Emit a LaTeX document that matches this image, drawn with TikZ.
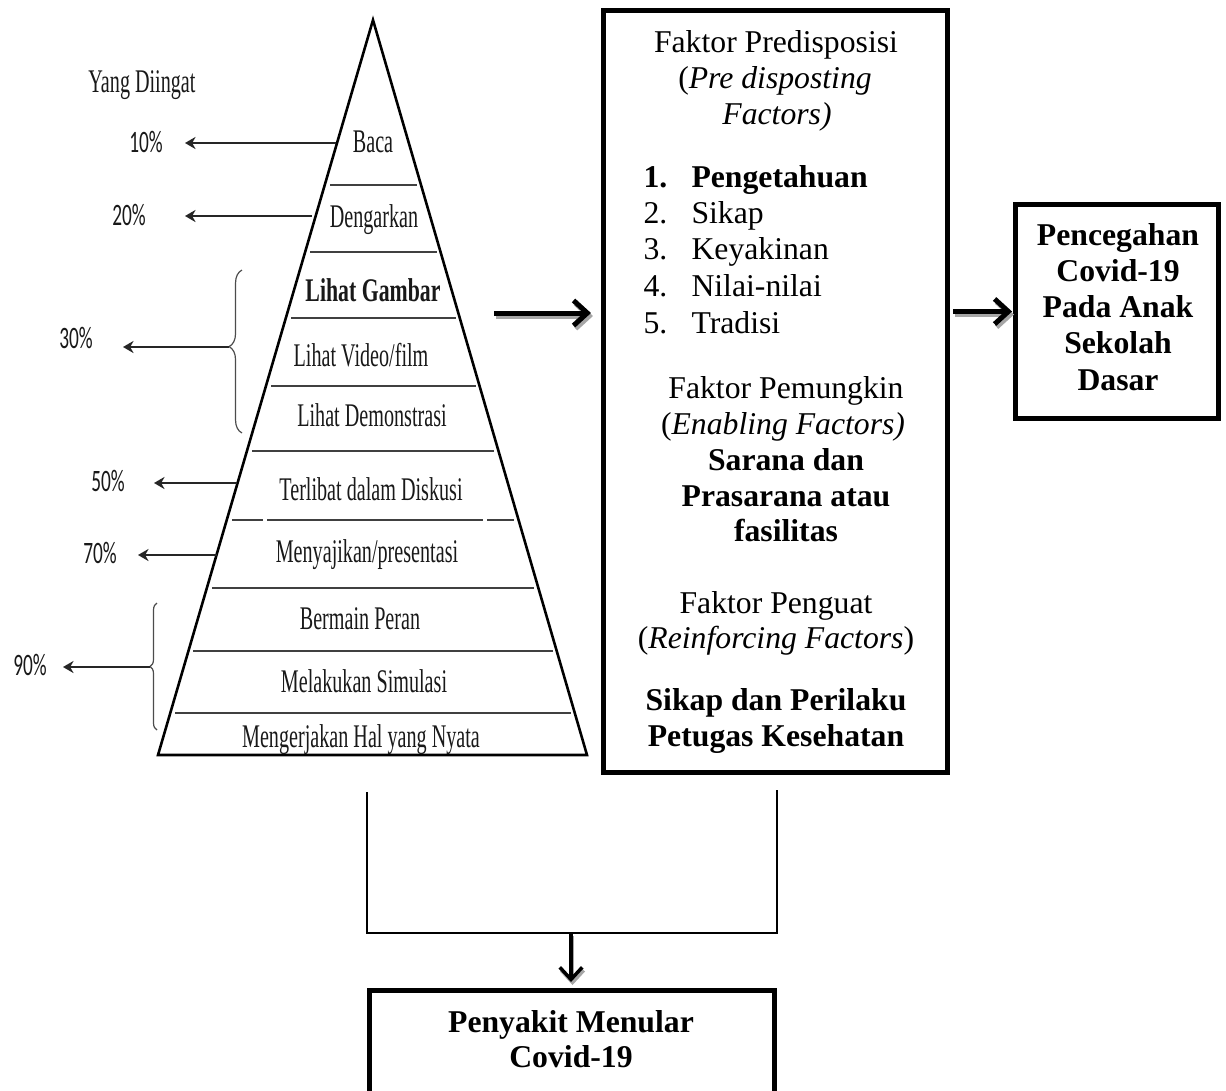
\documentclass[tikz,border=0pt]{standalone}
\usepackage{fontspec}
\setmainfont{Liberation Serif}
\newfontfamily\pctfont{Carlito}
\usepackage{graphicx}
\usetikzlibrary{arrows.meta,decorations.pathreplacing}

% condensed labels of the learning pyramid
\newcommand\pyrlabel[1]{\scalebox{0.61}[1]{\fontsize{12.5}{14}\selectfont #1}}
\newcommand\pyrbold[1]{\scalebox{0.66}[1]{\fontsize{12.5}{14}\selectfont\bfseries #1}}
\newcommand\pctlabel[1]{\scalebox{0.62}[1]{\pctfont\fontsize{11.8}{13}\selectfont #1}}

\tikzset{
  boxline/.style={draw, line width=1.89pt, inner sep=0pt},
  txt/.style={inner sep=0pt, anchor=base, font=\fontsize{12}{14}\selectfont},
  txtl/.style={txt, anchor=base west},
  pyr/.style={inner sep=0pt, anchor=base, text=black!90},
  layer/.style={draw=black!75, line width=0.9pt},
  pctarrow/.style={draw=black!85, line width=0.9pt, -{Stealth[length=4pt, width=4.6pt]}},
  bracket/.style={draw=black!70, line width=0.45pt, decorate},
  bigarrow/.style={line width=1.89pt, -{Straight Barb[length=5.2pt, width=9.5pt]}},
  bigshadow/.style={bigarrow, draw=black!35, transform canvas={shift={(0.76pt,-1.14pt)}}},
  downarrow/.style={line width=1.32pt, -{Straight Barb[length=4.6pt, width=8.5pt]}},
  downshadow/.style={downarrow, draw=black!35, transform canvas={shift={(0.57pt,-1.14pt)}}},
  joinline/.style={line width=0.49pt},
}

\begin{document}
\begin{tikzpicture}[x=0.3785pt, y=-0.3785pt]
\clip (0,0) rectangle (1226,1090);
\fill[white] (0,0) rectangle (1226,1090);

% ---------- learning pyramid ----------
\coordinate (apex) at (373,20);
\coordinate (bl) at (158,755);
\coordinate (br) at (587,755);
\draw[line width=0.98pt, line join=miter] (apex) -- (br) -- (bl) -- cycle;

\draw[layer] (330,185) -- (417,185);
\draw[layer] (310,252) -- (437,252);
\draw[layer] (291,318) -- (456,318);
\draw[layer] (271,386) -- (476,386);
\draw[layer] (252,451) -- (494,451);
\draw[layer] (232,520) -- (263,520);
\draw[layer] (267,520) -- (483,520);
\draw[layer] (487,520) -- (514,520);
\draw[layer] (212,588) -- (534,588);
\draw[layer] (193,651) -- (553,651);
\draw[layer] (175,713) -- (571,713);

\node[pyr] (baca) at (373,152) {\pyrlabel{Baca}};
\node[pyr] (dengar) at (374,227) {\pyrlabel{Dengarkan}};
\node[pyr] (gambar) at (373,301) {\pyrbold{Lihat Gambar}};
\node[pyr] (video) at (361,366) {\pyrlabel{Lihat Video/film}};
\node[pyr] (demo) at (372,426) {\pyrlabel{Lihat Demonstrasi}};
\node[pyr] (diskusi) at (371,500) {\pyrlabel{Terlibat dalam Diskusi}};
\node[pyr] (saji) at (367,562) {\pyrlabel{Menyajikan/presentasi}};
\node[pyr] (peran) at (360,629) {\pyrlabel{Bermain Peran}};
\node[pyr] (simulasi) at (364,692) {\pyrlabel{Melakukan Simulasi}};
\node[pyr] (nyata) at (361,747) {\pyrlabel{Mengerjakan Hal yang Nyata}};

% ---------- retention percentages ----------
\node[pyr] (diingat) at (142,92) {\pyrlabel{Yang Diingat}};

\node[pyr] (p10) at (146,152) {\pctlabel{10\%}};
\node[pyr] (p20) at (129,225) {\pctlabel{20\%}};
\node[pyr] (p30) at (76,348) {\pctlabel{30\%}};
\node[pyr] (p50) at (108,491) {\pctlabel{50\%}};
\node[pyr] (p70) at (100,563) {\pctlabel{70\%}};
\node[pyr] (p90) at (30,675) {\pctlabel{90\%}};

\coordinate (s10) at (336,143);  \coordinate (t10) at (185,143);
\coordinate (s20) at (312,216);  \coordinate (t20) at (185,216);
\coordinate (s50) at (237,483);  \coordinate (t50) at (154,483);
\coordinate (s70) at (217,555);  \coordinate (t70) at (138,555);
\coordinate (s30) at (229,347);  \coordinate (t30) at (123,347);
\coordinate (s90) at (150,667);  \coordinate (t90) at (63,667);

\draw[bracket, decoration={brace, amplitude=4.9pt, aspect=0.53}] (242,433) -- (242,270);
\draw[bracket, decoration={brace, amplitude=2.65pt, aspect=0.5}] (157,730) -- (157,603);

\draw[pctarrow] (s10) -- (t10);
\draw[pctarrow] (s20) -- (t20);
\draw[pctarrow] (s30) -- (t30);
\draw[pctarrow] (s50) -- (t50);
\draw[pctarrow] (s70) -- (t70);
\draw[pctarrow] (s90) -- (t90);

% ---------- factor box ----------
\node[boxline, minimum width=130.2pt, minimum height=288.4pt] (fac) at (775.5,391.5) {};

\node[txt] (f1) at (776,52) {Faktor Predisposisi};
\node[txt] (f2) at (775,88) {(\textit{Pre disposting}};
\node[txt] (f3) at (777,124) {\textit{Factors)}};

\node[txtl] (n1) at (643,187) {\textbf{1.}};
\node[txtl] (i1) at (691,187) {\textbf{Pengetahuan}};
\node[txtl] (n2) at (643,223) {2.};
\node[txtl] (i2) at (691,223) {Sikap};
\node[txtl] (n3) at (643,259) {3.};
\node[txtl] (i3) at (691,259) {Keyakinan};
\node[txtl] (n4) at (643,296) {4.};
\node[txtl] (i4) at (691,296) {Nilai-nilai};
\node[txtl] (n5) at (643,333) {5.};
\node[txtl] (i5) at (691,333) {Tradisi};

\node[txt] (e1) at (786,398) {Faktor Pemungkin};
\node[txt] (e2) at (783,434) {(\textit{Enabling Factors)}};
\node[txt] (e3) at (786,470) {\textbf{Sarana dan}};
\node[txt] (e4) at (786,506) {\textbf{Prasarana atau}};
\node[txt] (e5) at (786,541) {\textbf{fasilitas}};

\node[txt] (r1) at (776,613) {Faktor Penguat};
\node[txt] (r2) at (776,648) {(\textit{Reinforcing Factors})};
\node[txt] (r3) at (776,710) {\textbf{Sikap dan Perilaku}};
\node[txt] (r4) at (776,746) {\textbf{Petugas Kesehatan}};

% ---------- outcome boxes ----------
\node[boxline, minimum width=76.8pt, minimum height=81pt] (prev) at (1117,311.5) {};
\node[txt] (c1) at (1118,245) {\textbf{Pencegahan}};
\node[txt] (c2) at (1118,281) {\textbf{Covid-19}};
\node[txt] (c3) at (1118,317) {\textbf{Pada Anak}};
\node[txt] (c4) at (1118,353) {\textbf{Sekolah}};
\node[txt] (c5) at (1118,390) {\textbf{Dasar}};

\node[boxline, minimum width=153.3pt, minimum height=53pt] (dis) at (572,1060.5) {};
\node[txt] (d1) at (571,1032) {\textbf{Penyakit Menular}};
\node[txt] (d2) at (571,1067) {\textbf{Covid-19}};

% ---------- connectors ----------
\coordinate (a1) at (494,313);
\draw[bigshadow, shorten >=3.8pt] (a1) -- (a1 -| fac.west);
\draw[bigarrow, shorten >=3.8pt] (a1) -- (a1 -| fac.west);

\draw[bigshadow, shorten <=1.14pt, shorten >=0.38pt] (fac.east |- prev.west) -- (prev.west);
\draw[bigarrow, shorten <=1.14pt, shorten >=0.38pt] (fac.east |- prev.west) -- (prev.west);

\coordinate (cl) at (367,792);
\coordinate (cr) at (777,790);
\coordinate (jl) at (367,933);
\coordinate (jr) at (777,933);
\coordinate (jm) at (571,933);
\draw[joinline] (cl) -- (jl) -- (jr) -- (cr);

\draw[downshadow, shorten >=2.27pt] (jm) -- (jm |- dis.north);
\draw[downarrow, shorten >=2.27pt] (jm) -- (jm |- dis.north);
\end{tikzpicture}
\end{document}
